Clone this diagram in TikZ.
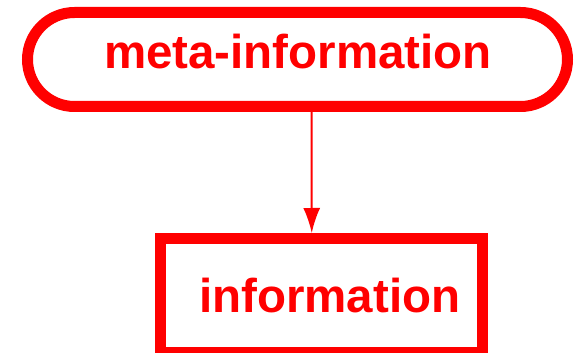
\documentclass[tikz,border=0pt]{standalone}
\usepackage{fontspec}
\setmainfont{Liberation Sans}
\usetikzlibrary{arrows.meta}

\tikzset{
  metabox/.style={draw=red, line width=11pt, rounded corners=47pt,
    minimum width=540pt, minimum height=94pt, text=red,
    text height=35pt, text depth=16pt,
    font=\bfseries\fontsize{47.5}{57}\selectfont},
  infobox/.style={draw=red, line width=11pt,
    minimum width=321.5pt, minimum height=113.5pt, text=red,
    text height=35pt, text depth=1.5pt,
    font=\bfseries\fontsize{47.5}{57}\selectfont},
  link/.style={red, line width=2pt, -{Latex[length=25pt,width=17pt]}}
}

\begin{document}
\begin{tikzpicture}
        \useasboundingbox (0,0) rectangle (574pt,-353pt);

        \node[metabox] (meta) at (297.5pt,-59.5pt) {\hspace*{1pt}meta-information};
        \node[infobox] (info) at (321.25pt,-295.25pt) {\hspace*{17pt}information};

        \draw[link] ([xshift=14pt]meta.south) -- ([xshift=-9.5pt]info.north);
\end{tikzpicture}
\end{document}
